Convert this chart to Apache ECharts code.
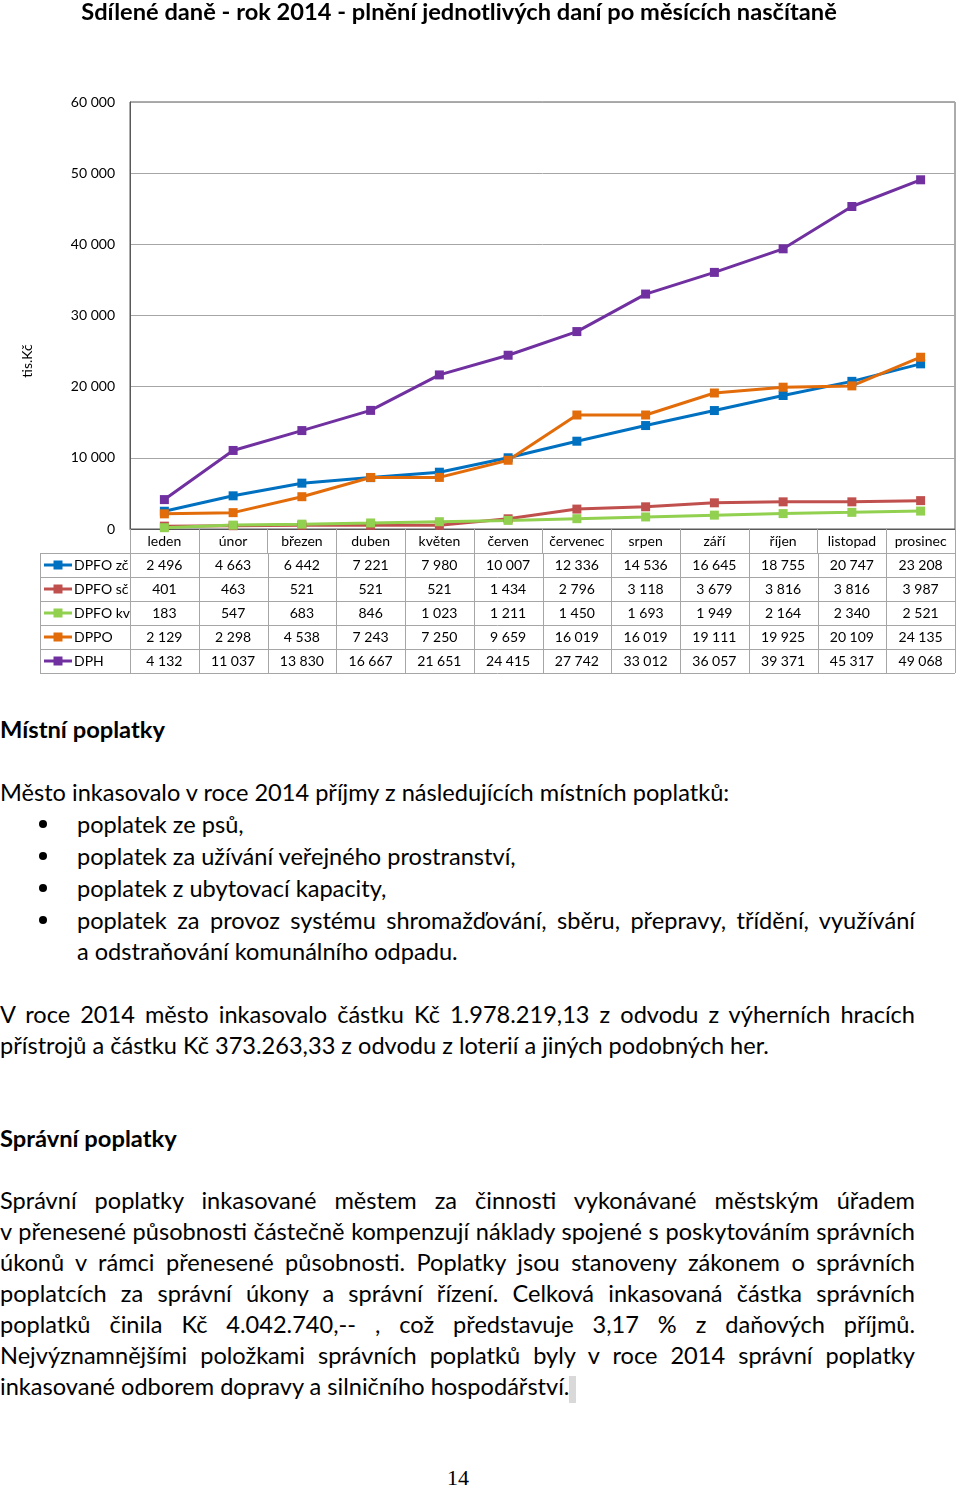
<!DOCTYPE html>
<html><head><meta charset="utf-8">
<script src="https://cdn.jsdelivr.net/npm/echarts@6/dist/echarts.min.js"></script>
<style>
html,body{margin:0;padding:0;background:#fff;}
body{width:960px;height:1489px;position:relative;overflow:hidden;font-family:Lato,'Noto Sans',sans-serif;color:#000;}
#chart{position:absolute;left:0;top:0;width:960px;height:690px;}
.ln{position:absolute;white-space:nowrap;line-height:30px;height:30px;}
.ln span{white-space:nowrap;}
.bul{position:absolute;width:8px;height:8px;border-radius:50%;background:#000;}
</style></head><body>
<div id="chart"></div>
<div id="text"></div>
<script>
// ---------- chart data ----------
const chartTitle = 'Sdílené daně - rok 2014 - plnění jednotlivých daní po měsících nasčítaně';
const months = ['leden','únor','březen','duben','květen','červen','červenec','srpen','září','říjen','listopad','prosinec'];
const yTicks = [0, 10000, 20000, 30000, 40000, 50000, 60000];
const seriesNames = ['DPFO zč','DPFO sč','DPFO kv','DPPO','DPH'];
const dpfoZc = [2496, 4663, 6442, 7221, 7980, 10007, 12336, 14536, 16645, 18755, 20747, 23208];
const dpfoSc = [401, 463, 521, 521, 521, 1434, 2796, 3118, 3679, 3816, 3816, 3987];
const dpfoKv = [183, 547, 683, 846, 1023, 1211, 1450, 1693, 1949, 2164, 2340, 2521];
const dppo = [2129, 2298, 4538, 7243, 7250, 9659, 16019, 16019, 19111, 19925, 20109, 24135];
const dph = [4132, 11037, 13830, 16667, 21651, 24415, 27742, 33012, 36057, 39371, 45317, 49068];
const yAxisName = 'tis.Kč';

const FONT = 'Lato, "Noto Sans", sans-serif';
const fmt = v => String(v).replace(/\B(?=(\d{3})+(?!\d))/g, '\u00a0');
const seriesData = [dpfoZc, dpfoSc, dpfoKv, dppo, dph];
const seriesStyle = [
  {color:'#0070c0'},
  {color:'#c0504d'},
  {color:'#92d050'},
  {color:'#e36c0a'},
  {color:'#7030a0'}
];

// fit title font to the reference title width
const mctx = document.createElement('canvas').getContext('2d');
mctx.font = 'bold 21px Lato';
const titleSize = 21 * 756 / mctx.measureText(chartTitle).width;

const chart = echarts.init(document.getElementById('chart'), null, {renderer:'canvas'});
const option = {
  animation:false,
  backgroundColor:'#fff',
  title:{text:chartTitle, left:454, top:10 - titleSize*0.62, textAlign:'center',
    textStyle:{fontFamily:FONT, fontSize:titleSize, fontWeight:'bold', color:'#000'}},
  grid:{left:130, right:5, top:102, bottom:161, show:true, borderColor:'#595959', borderWidth:1, containLabel:false, outerBoundsMode:'none'},
  xAxis:{type:'category', data:months, boundaryGap:true,
    axisLine:{lineStyle:{color:'#595959', width:1}},
    axisTick:{show:true, interval:0, length:24, lineStyle:{color:'#a6a6a6'}},
    axisLabel:{interval:0, margin:12, verticalAlign:'middle', fontFamily:FONT, fontSize:14, color:'#000'}},
  yAxis:{type:'value', min:yTicks[0], max:yTicks[yTicks.length-1], interval:yTicks[1]-yTicks[0],
    axisLine:{show:true, lineStyle:{color:'#595959'}}, axisTick:{show:false},
    axisLabel:{formatter:fmt, margin:15, fontFamily:FONT, fontSize:14, color:'#000'},
    splitLine:{lineStyle:{color:'#a6a6a6', width:1}}},
  series:seriesNames.map((n,i)=>({
    name:n, type:'line', data:seriesData[i], symbol:'rect', symbolSize:9,
    lineStyle:{width:3, color:seriesStyle[i].color}, itemStyle:{color:seriesStyle[i].color},
    emphasis:{disabled:true}
  }))
};
chart.setOption(option);

// ---------- data table under the axis, positioned via the category scale ----------
(function(){
  const cx = i => chart.convertToPixel({xAxisIndex:0}, i);
  const band = cx(1) - cx(0);
  const x0 = cx(0) - band/2;
  const x1 = cx(months.length-1) + band/2;
  const yAxisPix = chart.convertToPixel({yAxisIndex:0}, 0);
  const rowH = 24;
  const top = yAxisPix + rowH;
  const tableLeft = 40;
  const g = [];
  const lineCol = '#a6a6a6';
  for (let r = 0; r <= seriesNames.length; r++) {
    const y = Math.round(top + r*rowH) + 0.5;
    g.push({type:'line', shape:{x1:tableLeft, y1:y, x2:x1, y2:y}, style:{stroke:lineCol, lineWidth:1}, silent:true});
  }
  const bottom = top + seriesNames.length*rowH;
  const vx = [tableLeft];
  for (let j = 0; j <= months.length; j++) vx.push(x0 + j*band);
  vx.forEach(x=>{
    const xx = Math.round(x)+0.5;
    g.push({type:'line', shape:{x1:xx, y1:top, x2:xx, y2:bottom}, style:{stroke:lineCol, lineWidth:1}, silent:true});
  });
  seriesNames.forEach((n, r)=>{
    const cy = top + r*rowH + rowH/2;
    const col = seriesStyle[r].color;
    g.push({type:'line', shape:{x1:44, y1:cy, x2:72, y2:cy}, style:{stroke:col, lineWidth:3}, silent:true});
    g.push({type:'rect', shape:{x:58-4.5, y:cy-4.5, width:9, height:9}, style:{fill:col}, silent:true});
    g.push({type:'text', x:74, y:cy, style:{text:n, fontFamily:FONT, fontSize:14, fill:'#000', align:'left', verticalAlign:'middle'}, silent:true});
    seriesData[r].forEach((v, i)=>{
      g.push({type:'text', x:cx(i), y:cy, style:{text:fmt(v), fontFamily:FONT, fontSize:14, fill:'#000', align:'center', verticalAlign:'middle'}, silent:true});
    });
  });
  g.push({type:'text', x:27, y:361, rotation:Math.PI/2, style:{text:yAxisName, fontFamily:FONT, fontSize:14, fill:'#000', align:'center', verticalAlign:'middle'}, silent:true});
  chart.setOption({graphic:g});
})();

// ---------- document text ----------
const textLines = [
  {t:'Místní poplatky', x:0, cy:729, bold:true},
  {t:'Město inkasovalo v roce 2014 příjmy z následujících místních poplatků:', x:0, cy:792},
  {t:'poplatek ze psů,', x:77, cy:824, bullet:true},
  {t:'poplatek za užívání veřejného prostranství,', x:77, cy:856, bullet:true},
  {t:'poplatek z ubytovací kapacity,', x:77, cy:888, bullet:true},
  {t:'poplatek za provoz systému shromažďování, sběru, přepravy, třídění, využívání', x:77, cy:920, bullet:true, w:838},
  {t:'a odstraňování komunálního odpadu.', x:77, cy:951},
  {t:'V roce 2014 město inkasovalo částku Kč 1.978.219,13 z odvodu z výherních hracích', x:0, cy:1014, w:915},
  {t:'přístrojů a částku Kč 373.263,33 z odvodu z  loterií a jiných podobných her.', x:0, cy:1045},
  {t:'Správní poplatky', x:0, cy:1138, bold:true},
  {t:'Správní poplatky inkasované městem za činnosti vykonávané městským úřadem', x:0, cy:1200, w:915},
  {t:'v přenesené působnosti částečně kompenzují náklady spojené s poskytováním správních', x:0, cy:1231, w:915},
  {t:'úkonů v rámci přenesené působnosti. Poplatky jsou stanoveny zákonem o správních', x:0, cy:1262, w:915},
  {t:'poplatcích za správní úkony a správní řízení. Celková inkasovaná částka správních', x:0, cy:1293, w:915},
  {t:'poplatků činila Kč 4.042.740,-- , což představuje 3,17 % z daňových příjmů.', x:0, cy:1324, w:915},
  {t:'Nejvýznamnějšími položkami správních poplatků byly v roce 2014 správní poplatky', x:0, cy:1355, w:915},
  {t:'inkasované odborem dopravy a silničního hospodářství.', x:0, cy:1386, sel:true}
];
(function(){
  const host = document.getElementById('text');
  const cv = document.createElement('canvas').getContext('2d');
  cv.font = '22px Lato';
  const ref = cv.measureText(textLines[1].t).width;
  const fs = 22 * 731 / ref;
  cv.font = 'bold 22px Lato';
  const refB = cv.measureText('Místní poplatky').width;
  const fsB = 22 * 165 / refB;
  textLines.forEach(L=>{
    const d = document.createElement('div');
    d.className = 'ln';
    d.style.left = L.x + 'px';
    d.style.top = (L.cy - 15) + 'px';
    d.style.fontSize = (L.bold ? fsB : fs) + 'px';
    if (L.bold) d.style.fontWeight = 'bold';
    const s = document.createElement('span');
    s.textContent = L.t;
    d.appendChild(s);
    if (L.sel) {
      const m = document.createElement('span');
      m.style.cssText = 'display:inline-block;width:7px;height:27px;background:#d9d9d9;vertical-align:middle;';
      d.appendChild(m);
    }
    host.appendChild(d);
    if (L.w) {
      const w = s.getBoundingClientRect().width;
      const spaces = (L.t.match(/ /g)||[]).length;
      if (w <= L.w) {
        s.style.wordSpacing = ((L.w - w)/spaces) + 'px';
      } else {
        d.style.transformOrigin = 'left center';
        d.style.transform = 'scaleX(' + (L.w / w) + ')';
      }
    }
    if (L.bullet) {
      const b = document.createElement('div');
      b.className = 'bul';
      b.style.left = '39px';
      b.style.top = (L.cy - 4) + 'px';
      host.appendChild(b);
    }
  });
  const p = document.createElement('div');
  p.className = 'ln';
  p.style.cssText = 'position:absolute;left:438px;width:40px;text-align:center;top:1463px;font-family:"Liberation Serif",serif;font-size:22px;line-height:30px;';
  p.textContent = '14';
  host.appendChild(p);
})();
</script>
</body></html>
